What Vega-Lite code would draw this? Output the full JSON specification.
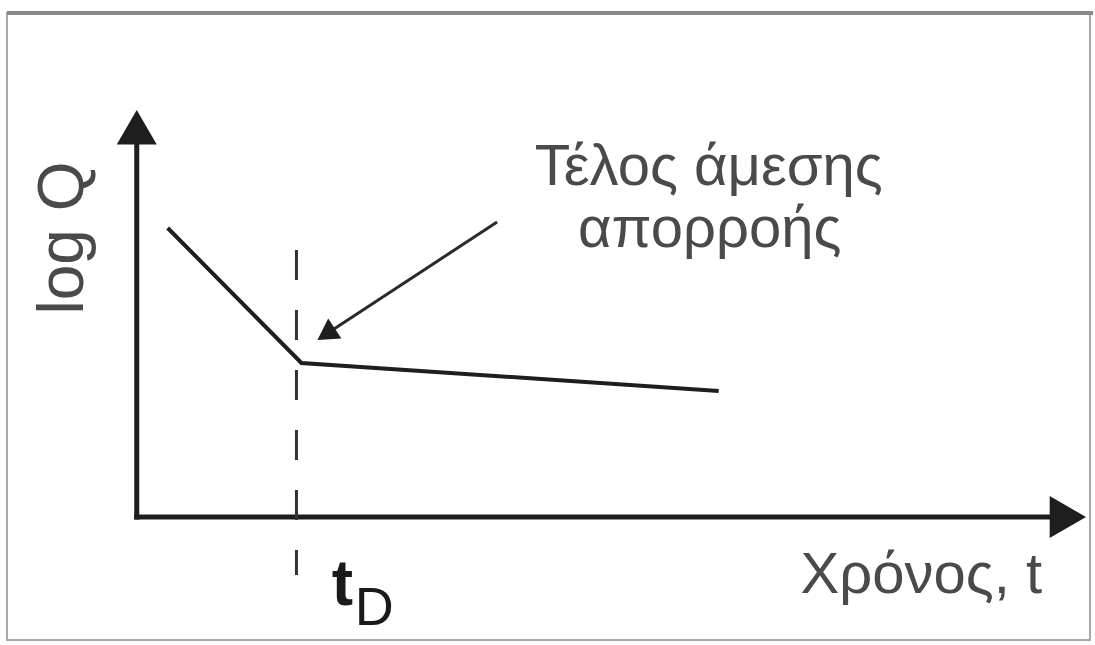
{
  "$schema": "https://vega.github.io/schema/vega-lite/v6.json",
  "width": 1095,
  "height": 645,
  "autosize": {"type": "fit", "contains": "padding"},
  "padding": 0,
  "background": "white",
  "config": {"view": {"stroke": null}},
  "datasets": {
    "frame": [{"x": -1.30, "x2": 9.55, "y": -1.23, "y2": 5.04}],
    "frameTop": [{"x": -1.30, "x2": 9.58, "y": 5.04}],
    "axes": [
      {"axis": "logQ", "x": 0, "y": 0, "x2": 0, "y2": 3.8},
      {"axis": "t", "x": 0, "y": 0, "x2": 9.4, "y2": 0}
    ],
    "yTip": [{"x": 0, "y": 3.897}],
    "xTip": [{"x": 9.328, "y": 0}],
    "recession": [
      {"t": 0.31, "logQ": 2.89},
      {"t": 1.65, "logQ": 1.54},
      {"t": 5.83, "logQ": 1.26}
    ],
    "tD": [{"x": 1.60, "y": 2.67, "y2": -0.58}],
    "pointer": [{"x": 3.61, "y": 2.95, "x2": 1.90, "y2": 1.83}],
    "pointerTip": [{"x": 1.897, "y": 1.827}],
    "note": [
      {"text": "Τέλος άμεσης", "x": 5.73, "y": 3.32},
      {"text": "απορροής", "x": 5.74, "y": 2.70}
    ],
    "yTitle": [{"text": "log Q", "x": -0.54, "y": 2.79}],
    "xTitle": [{"text": "Χρόνος,  t", "x": 7.86, "y": -0.76}],
    "tLabel": [{"text": "t", "x": 2.06, "y": -0.88}],
    "dLabel": [{"text": "D", "x": 2.38, "y": -1.08}]
  },
  "layer": [
    {
      "data": {"name": "frame"},
      "mark": {"type": "rect", "fill": null, "stroke": "#a8a8a8", "strokeWidth": 2},
      "encoding": {
        "x": {"field": "x", "type": "quantitative", "scale": {"domain": [-1.37, 9.58], "nice": false, "zero": false}, "axis": null},
        "x2": {"field": "x2"},
        "y": {"field": "y", "type": "quantitative", "scale": {"domain": [-1.28, 5.17], "nice": false, "zero": false}, "axis": null},
        "y2": {"field": "y2"}
      }
    },
    {
      "data": {"name": "frameTop"},
      "mark": {"type": "rule", "color": "#8a8a8a", "strokeWidth": 4},
      "encoding": {
        "x": {"field": "x", "type": "quantitative"},
        "x2": {"field": "x2"},
        "y": {"field": "y", "type": "quantitative"}
      }
    },
    {
      "data": {"name": "axes"},
      "mark": {"type": "rule", "color": "#1e1e1e", "strokeWidth": 5, "strokeCap": "square"},
      "encoding": {
        "x": {"field": "x", "type": "quantitative"},
        "x2": {"field": "x2"},
        "y": {"field": "y", "type": "quantitative"},
        "y2": {"field": "y2"}
      }
    },
    {
      "data": {"name": "yTip"},
      "mark": {"type": "point", "shape": "triangle-up", "size": 1600, "filled": true, "color": "#1e1e1e", "opacity": 1},
      "encoding": {
        "x": {"field": "x", "type": "quantitative"},
        "y": {"field": "y", "type": "quantitative"}
      }
    },
    {
      "data": {"name": "xTip"},
      "mark": {"type": "point", "shape": "triangle-right", "size": 1764, "filled": true, "color": "#1e1e1e", "opacity": 1},
      "encoding": {
        "x": {"field": "x", "type": "quantitative"},
        "y": {"field": "y", "type": "quantitative"}
      }
    },
    {
      "data": {"name": "recession"},
      "mark": {"type": "line", "color": "#1e1e1e", "strokeWidth": 4, "strokeJoin": "miter"},
      "encoding": {
        "x": {"field": "t", "type": "quantitative"},
        "y": {"field": "logQ", "type": "quantitative"}
      }
    },
    {
      "data": {"name": "tD"},
      "mark": {"type": "rule", "color": "#333333", "strokeWidth": 3, "strokeDash": [30, 30]},
      "encoding": {
        "x": {"field": "x", "type": "quantitative"},
        "y": {"field": "y", "type": "quantitative"},
        "y2": {"field": "y2"}
      }
    },
    {
      "data": {"name": "pointer"},
      "mark": {"type": "rule", "color": "#2a2a2a", "strokeWidth": 3},
      "encoding": {
        "x": {"field": "x", "type": "quantitative"},
        "x2": {"field": "x2"},
        "y": {"field": "y", "type": "quantitative"},
        "y2": {"field": "y2"}
      }
    },
    {
      "data": {"name": "pointerTip"},
      "mark": {"type": "point", "shape": "triangle-up", "size": 576, "angle": 236.7, "filled": true, "color": "#1e1e1e", "opacity": 1},
      "encoding": {
        "x": {"field": "x", "type": "quantitative"},
        "y": {"field": "y", "type": "quantitative"}
      }
    },
    {
      "data": {"name": "note"},
      "mark": {"type": "text", "font": "Liberation Sans", "fontSize": 58, "color": "#4a4a4a", "align": "center", "baseline": "alphabetic"},
      "encoding": {
        "x": {"field": "x", "type": "quantitative"},
        "y": {"field": "y", "type": "quantitative"},
        "text": {"field": "text"}
      }
    },
    {
      "data": {"name": "yTitle"},
      "mark": {"type": "text", "font": "Liberation Sans", "fontSize": 64, "color": "#4a4a4a", "align": "center", "baseline": "alphabetic", "angle": 270},
      "encoding": {
        "x": {"field": "x", "type": "quantitative"},
        "y": {"field": "y", "type": "quantitative"},
        "text": {"field": "text"}
      }
    },
    {
      "data": {"name": "xTitle"},
      "mark": {"type": "text", "font": "Liberation Sans", "fontSize": 58, "color": "#4a4a4a", "align": "center", "baseline": "alphabetic"},
      "encoding": {
        "x": {"field": "x", "type": "quantitative"},
        "y": {"field": "y", "type": "quantitative"},
        "text": {"field": "text"}
      }
    },
    {
      "data": {"name": "tLabel"},
      "mark": {"type": "text", "font": "Liberation Sans", "fontSize": 64, "fontWeight": "bold", "color": "#1a1a1a", "align": "center", "baseline": "alphabetic"},
      "encoding": {
        "x": {"field": "x", "type": "quantitative"},
        "y": {"field": "y", "type": "quantitative"},
        "text": {"field": "text"}
      }
    },
    {
      "data": {"name": "dLabel"},
      "mark": {"type": "text", "font": "Liberation Sans", "fontSize": 54, "color": "#1a1a1a", "align": "center", "baseline": "alphabetic"},
      "encoding": {
        "x": {"field": "x", "type": "quantitative"},
        "y": {"field": "y", "type": "quantitative"},
        "text": {"field": "text"}
      }
    }
  ]
}
